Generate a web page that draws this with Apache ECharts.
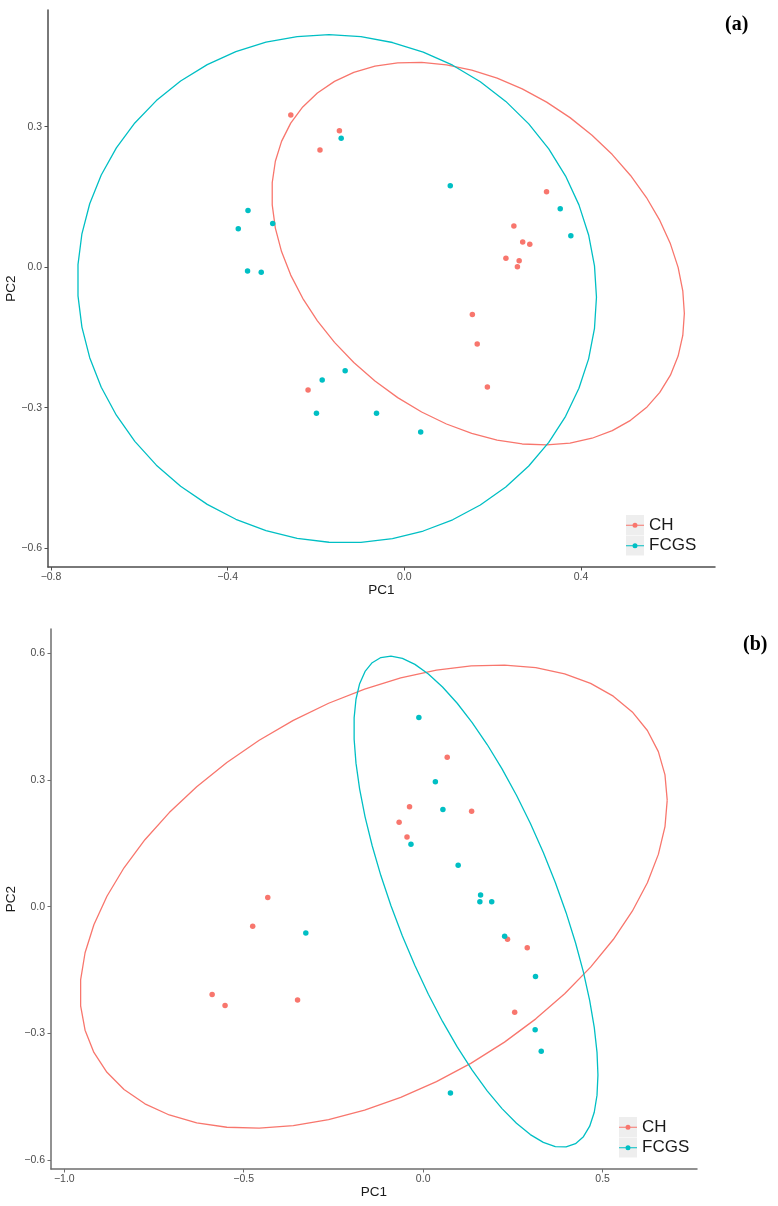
<!DOCTYPE html>
<html>
<head>
<meta charset="utf-8">
<script src="https://cdn.jsdelivr.net/npm/echarts@6/dist/echarts.min.js"></script>
<style>
html,body{margin:0;padding:0;background:#fff;}
#chart{width:778px;height:1206px;}
</style>
</head>
<body>
<div id="chart"></div>
<script>
// ---------- DATA ----------
const categories = ['CH', 'FCGS'];

// Panel (a) points [PC1, PC2]
const chA = [[-0.257,0.325],[-0.147,0.291],[-0.191,0.250],[0.322,0.161],[0.248,0.088],[0.268,0.054],[0.284,0.049],[0.230,0.019],[0.260,0.014],[0.256,0.001],[-0.218,-0.262],[0.154,-0.101],[0.165,-0.164],[0.188,-0.256]];
const fcgsA = [[-0.143,0.275],[-0.354,0.121],[-0.376,0.082],[-0.298,0.093],[-0.355,-0.008],[-0.324,-0.011],[0.104,0.174],[0.353,0.125],[0.377,0.067],[-0.134,-0.221],[-0.186,-0.241],[-0.199,-0.312],[-0.063,-0.312],[0.037,-0.352]];

// Panel (b) points [PC1, PC2]
const chB = [[-0.433,0.022],[0.067,0.354],[-0.038,0.237],[0.135,0.226],[-0.067,0.200],[-0.045,0.165],[-0.475,-0.046],[-0.588,-0.208],[-0.552,-0.234],[-0.350,-0.221],[0.235,-0.077],[0.290,-0.097],[0.255,-0.250]];
const fcgsB = [[-0.012,0.448],[0.034,0.296],[0.055,0.230],[-0.034,0.148],[0.0975,0.098],[0.160,0.028],[0.158,0.012],[0.191,0.012],[-0.327,-0.062],[0.227,-0.070],[0.313,-0.165],[0.312,-0.291],[0.329,-0.342],[0.076,-0.441]];

// Ellipses: [centerX, centerY, halfWidth, yOffsetAtRightExtreme, verticalConjugate]
const ellCHA   = [0.167, 0.029, 0.467, -0.128, 0.388];
const ellFCGSA = [-0.1525, -0.046, 0.5875, -0.018, 0.542];
const ellCHB   = [-0.138, 0.024, 0.818, 0.2285, 0.4987];
const ellFCGSB = [0.147, 0.012, 0.340, -0.4106, 0.4117];

// Tick labels
const xTicksA = [-0.8, -0.4, 0.0, 0.4];
const yTicksA = [-0.6, -0.3, 0.0, 0.3];
const xTicksB = [-1.0, -0.5, 0.0, 0.5];
const yTicksB = [-0.6, -0.3, 0.0, 0.3, 0.6];

// ---------- CHART ----------
const colors = {CH: '#F8766D', FCGS: '#00BFC4'};
function ellipse(e) {
  const pts = [];
  const N = 51;
  for (let i = 0; i <= N; i++) {
    const t = 2 * Math.PI * i / N;
    pts.push([e[0] + e[2] * Math.cos(t), e[1] + e[3] * Math.cos(t) + e[4] * Math.sin(t)]);
  }
  return pts;
}
const fmt = v => (v < 0 ? '\u2212' : '') + Math.abs(v).toFixed(1);
const labelFont = {fontFamily: 'Liberation Sans, Arial, sans-serif', fontSize: 10.5, color: '#4d4d4d'};
const nameFont = {fontFamily: 'Liberation Sans, Arial, sans-serif', fontSize: 13.5, color: '#1a1a1a'};

function xAxis(idx, min, max, ticks, lineColor) {
  return {
    type: 'value', gridIndex: idx, min: min, max: max,
    name: 'PC1', nameLocation: 'middle', nameGap: 16, nameMoveOverlap: false, nameTextStyle: nameFont,
    splitLine: {show: false},
    axisLine: {show: true, onZero: false, lineStyle: {color: lineColor, width: 1.5}},
    axisTick: {show: true, length: 3.5, customValues: ticks, lineStyle: {color: lineColor, width: 1}},
    axisLabel: Object.assign({margin: 5, customValues: ticks, formatter: fmt}, labelFont)
  };
}
function yAxis(idx, min, max, ticks, lineColor, gap) {
  return {
    type: 'value', gridIndex: idx, min: min, max: max,
    name: 'PC2', nameLocation: 'middle', nameGap: gap, nameRotate: 90, nameMoveOverlap: false, nameTextStyle: nameFont,
    splitLine: {show: false},
    axisLine: {show: true, onZero: false, lineStyle: {color: lineColor, width: 1.5}},
    axisTick: {show: true, length: 3.5, customValues: ticks, lineStyle: {color: lineColor, width: 1}},
    axisLabel: Object.assign({margin: 6, customValues: ticks, formatter: fmt}, labelFont)
  };
}
function lineSeries(name, data, color, idx) {
  return {name: name, type: 'line', xAxisIndex: idx, yAxisIndex: idx, data: data,
    showSymbol: false, smooth: false, lineStyle: {color: color, width: 1.3}, silent: true, z: 2};
}
function scatterSeries(name, data, color, idx) {
  return {name: name, type: 'scatter', xAxisIndex: idx, yAxisIndex: idx, data: data,
    symbolSize: 5.5, itemStyle: {color: color, opacity: 1}, z: 3};
}
const keyIcon = 'path://M0,2 L18,2 L18,3 L0,3 Z M11.5,2.5 A2.5,2.5 0 1 1 6.5,2.5 A2.5,2.5 0 1 1 11.5,2.5 Z';
function legend(left, top) {
  return {
    data: categories.map(c => ({name: c, icon: keyIcon})),
    orient: 'vertical', left: left, top: top, padding: 0, itemGap: 0,
    itemWidth: 18, itemHeight: 5, selectedMode: false,
    textStyle: {fontFamily: 'Liberation Sans, Arial, sans-serif', fontSize: 17, color: '#1a1a1a', lineHeight: 20.5, padding: [0, 0, 0, 0]}
  };
}
function keyBoxes(left, top) {
  return [0, 1].map(i => ({type: 'rect', left: left, top: top + i * 20.5, z: 0,
    shape: {width: 18, height: 20}, style: {fill: '#eeeeee'}}));
}

const chart = echarts.init(document.getElementById('chart'), null, {renderer: 'canvas'});
chart.setOption({
  animation: false,
  backgroundColor: '#ffffff',
  grid: [
    {left: 48, top: 10, width: 667, height: 557, containLabel: false, outerBoundsMode: 'none'},
    {left: 51, top: 629, width: 646, height: 540, containLabel: false, outerBoundsMode: 'none'}
  ],
  xAxis: [xAxis(0, -0.8068, 0.7034, xTicksA, '#4d4d4d'), xAxis(1, -1.037, 0.763, xTicksB, '#6e6e6e')],
  yAxis: [yAxis(0, -0.640, 0.549, yTicksA, '#4d4d4d', 30), yAxis(1, -0.621, 0.6576, yTicksB, '#6e6e6e', 33)],
  legend: [legend(626, 515), legend(619, 1117)],
  graphic: [].concat(keyBoxes(626, 515), keyBoxes(619, 1117), [
    {type: 'text', left: 725, top: 15, style: {text: '(a)', font: 'bold 20px "Liberation Serif", serif', fill: '#000'}},
    {type: 'text', left: 743, top: 635, style: {text: '(b)', font: 'bold 20px "Liberation Serif", serif', fill: '#000'}}
  ]),
  series: [
    lineSeries('CH ellipse a', ellipse(ellCHA), colors.CH, 0),
    lineSeries('FCGS ellipse a', ellipse(ellFCGSA), colors.FCGS, 0),
    scatterSeries('CH', chA, colors.CH, 0),
    scatterSeries('FCGS', fcgsA, colors.FCGS, 0),
    lineSeries('CH ellipse b', ellipse(ellCHB), colors.CH, 1),
    lineSeries('FCGS ellipse b', ellipse(ellFCGSB), colors.FCGS, 1),
    scatterSeries('CH', chB, colors.CH, 1),
    scatterSeries('FCGS', fcgsB, colors.FCGS, 1)
  ]
});
</script>
</body>
</html>
